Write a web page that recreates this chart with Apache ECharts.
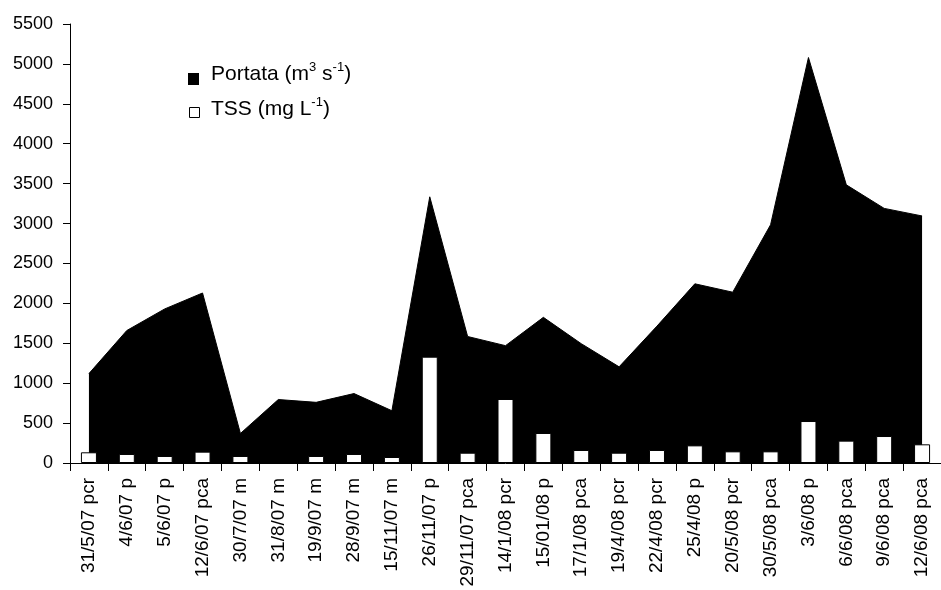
<!DOCTYPE html>
<html>
<head>
<meta charset="utf-8">
<script src="https://cdn.jsdelivr.net/npm/echarts@6/dist/echarts.min.js"></script>
<style>
  html, body { margin: 0; padding: 0; background: #fff; }
  #chart { width: 941px; height: 590px; }
</style>
</head>
<body>
<div id="chart"></div>
<script>
// Sampling dates with hydrological condition tag
const categories = [
  '31/5/07 pcr', '4/6/07 p', '5/6/07 p', '12/6/07 pca', '30/7/07 m',
  '31/8/07 m', '19/9/07 m', '28/9/07 m', '15/11/07 m', '26/11/07 p',
  '29/11/07 pca', '14/1/08 pcr', '15/01/08 p', '17/1/08 pca', '19/4/08 pcr',
  '22/4/08 pcr', '25/4/08 p', '20/5/08 pcr', '30/5/08 pca', '3/6/08 p',
  '6/6/08 pca', '9/6/08 pca', '12/6/08 pca'
];

// Discharge (m3 s-1)
const portata = [
  1120, 1660, 1930, 2130, 370,
  795, 760, 870, 655, 3335,
  1585, 1470, 1825, 1495, 1205,
  1715, 2245, 2140, 2985, 5080,
  3485, 3190, 3095
];

// Total suspended solids (mg L-1)
const tss = [
  134, 113, 88, 142, 88,
  0, 88, 113, 75, 1332,
  129, 802, 376, 163, 129,
  163, 221, 146, 146, 526,
  280, 338, 234
];

const yTicks = { min: 0, max: 5500, interval: 500 };

const chart = echarts.init(document.getElementById('chart'));
const font = 'Liberation Sans, Arial, sans-serif';

// Legend text with superscript units
const legendRich = {
  t: { fontFamily: font, fontSize: 21, color: '#000', lineHeight: 24 },
  s: { fontFamily: font, fontSize: 13, color: '#000', lineHeight: 24, padding: [0, 0, 13, 0] }
};

chart.setOption({
  animation: false,
  backgroundColor: '#fff',
  grid: { left: 70, top: 24, width: 879, height: 439 },
  graphic: [
    { type: 'rect', left: 188, top: 73, shape: { width: 11, height: 12 }, style: { fill: '#000' } },
    { type: 'text', left: 211, top: 61,
      style: { text: '{t|Portata (m}{s|3}{t| s}{s|-1}{t|)}', rich: legendRich } },
    { type: 'rect', left: 189, top: 107, shape: { width: 10, height: 10 }, style: { fill: '#fff', stroke: '#000', lineWidth: 1 } },
    { type: 'text', left: 211, top: 96,
      style: { text: '{t|TSS (mg L}{s|-1}{t|)}', rich: legendRich } }
  ],
  xAxis: {
    type: 'category',
    data: categories,
    boundaryGap: true,
    axisLine: { lineStyle: { color: '#000', width: 1 } },
    axisTick: { show: true, length: 8, lineStyle: { color: '#000' } },
    axisLabel: {
      rotate: 90, interval: 0, margin: 15,
      fontFamily: font, fontSize: 19, color: '#000'
    },
    splitLine: { show: false }
  },
  yAxis: {
    type: 'value',
    min: yTicks.min,
    max: yTicks.max,
    interval: yTicks.interval,
    axisLine: { show: true, lineStyle: { color: '#000', width: 1 } },
    axisTick: { show: true, length: 7, lineStyle: { color: '#000' } },
    axisLabel: {
      margin: 17, fontFamily: font, fontSize: 18, color: '#000',
      formatter: function (v) { return String(v); }
    },
    splitLine: { show: false }
  },
  series: [
    {
      name: 'Portata',
      type: 'line',
      data: portata,
      symbol: 'none',
      lineStyle: { color: '#000', width: 1 },
      itemStyle: { color: '#000' },
      areaStyle: { color: '#000', opacity: 1 },
      z: 1
    },
    {
      name: 'TSS',
      type: 'bar',
      data: tss,
      barWidth: 16,
      itemStyle: { color: '#fff', borderColor: '#000', borderWidth: 1 },
      z: 2
    }
  ]
});
</script>
</body>
</html>
